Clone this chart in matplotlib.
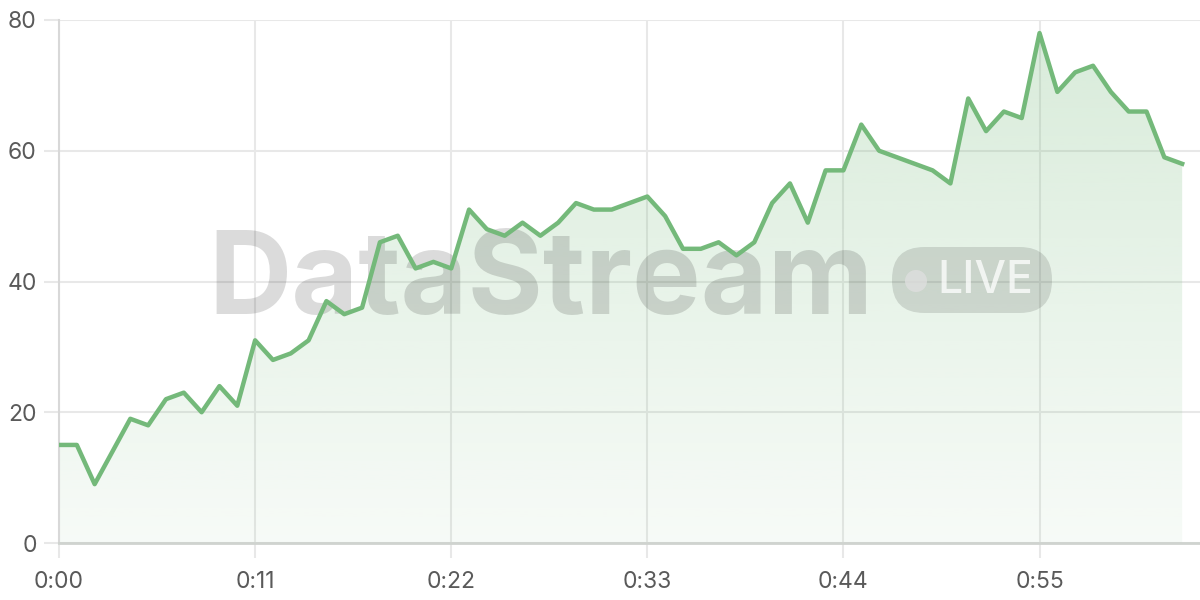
import numpy as np
import matplotlib
matplotlib.use("Agg")
from matplotlib import pyplot as plt
from matplotlib.patches import FancyBboxPatch, Ellipse

# one sample per second
seconds = list(range(64))
values = [15, 15, 9, 14, 19, 18, 22, 23, 20, 24,
          21, 31, 28, 29, 31, 37, 35, 36, 46, 47,
          42, 43, 42, 51, 48, 47, 49, 47, 49, 52,
          51, 51, 52, 53, 50, 45, 45, 46, 44, 46,
          52, 55, 49, 57, 57, 64, 60, 59, 58, 57,
          55, 68, 63, 66, 65, 78, 69, 72, 73, 69,
          66, 66, 59, 58]
xticks = [0, 11, 22, 33, 44, 55]
xticklabels = ['0:00', '0:11', '0:22', '0:33', '0:44', '0:55']
yticks = [0, 20, 40, 60, 80]

line_col = '#74b97a'
grid_col = '#e8e8e8'
text_col = '#5a5a5a'

plt.rcParams['font.family'] = ['Inter', 'DejaVu Sans']

fig = plt.figure(figsize=(12, 6), dpi=100)
ax = fig.add_axes([59/1200, 1-543/600, 1-59/1200, (543-20)/600])
ax.set_xlim(0, 64)
ax.set_ylim(0, 80)

# gradient fill under the line
x = np.array(seconds)
y = np.array(values)
poly = ax.fill_between(x, y, 0, color='none', lw=0)
grad = np.linspace(0.28, 0.06, 256).reshape(-1, 1)
rgba = np.zeros((256, 1, 4))
rgba[..., 0] = 116/255
rgba[..., 1] = 185/255
rgba[..., 2] = 122/255
rgba[..., 3] = grad
img = ax.imshow(rgba, extent=[0, 63, 0, 80], origin='upper', aspect='auto', zorder=1)
img.set_clip_path(poly.get_paths()[0], transform=ax.transData)
ax.plot(x, y, color=line_col, lw=3.2, zorder=4)

# watermark
ax.text(0.131, 0.495, 'DataStream', transform=ax.transAxes, fontsize=83,
        fontweight='bold', color='black', alpha=0.14, ha='left', va='center',
        zorder=3)
badge = FancyBboxPatch((892/1200, 1-313/600), (1052-892)/1200, (313-247)/600,
                       boxstyle='round,pad=0,rounding_size=0.027',
                       transform=fig.transFigure, facecolor='black', alpha=0.12,
                       lw=0, zorder=3, mutation_aspect=2)
fig.patches.append(badge)
fig.patches.append(Ellipse((916/1200, 1-281/600), 22/1200, 22/600,
                           transform=fig.transFigure, facecolor='white',
                           alpha=0.75, lw=0))
fig.text(937/1200, 1-281/600, 'LIVE', fontsize=32, color='white', alpha=0.75,
         ha='left', va='center', fontweight='medium')

ax.set_xticks(xticks)
ax.set_xticklabels(xticklabels)
ax.set_yticks(yticks)
ax.grid(True, color=grid_col, lw=1.5, zorder=0)
ax.set_axisbelow(True)
ax.tick_params(axis='both', length=11, width=1.5, color=grid_col,
               labelsize=16.5, labelcolor=text_col)
ax.tick_params(axis='x', pad=9)
ax.tick_params(axis='y', pad=5)
for s in ['top', 'right']:
    ax.spines[s].set_visible(False)
ax.spines['left'].set_color('#d8d8d8')
ax.spines['left'].set_linewidth(1.5)
ax.spines['bottom'].set_color('#cfd3cf')
ax.spines['bottom'].set_linewidth(2)

fig.savefig('out.png', dpi=100)
